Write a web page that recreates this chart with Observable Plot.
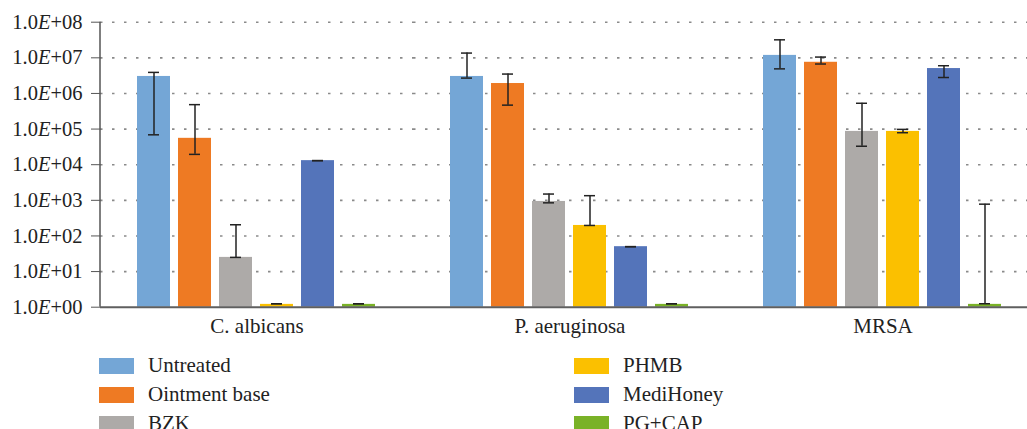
<!DOCTYPE html>
<html>
<head>
<meta charset="utf-8">
<script src="https://cdn.jsdelivr.net/npm/d3@7"></script>
<script src="https://cdn.jsdelivr.net/npm/@observablehq/plot@0.6"></script>
<style>
  html, body { margin: 0; padding: 0; background: #fff; overflow: hidden; }
  #wrap { position: relative; width: 1027px; height: 429px; overflow: hidden; font-family: "Liberation Serif", "Times New Roman", Times, "DejaVu Serif", "Noto Serif", serif; color: #222; }
  #chart { position: absolute; left: 0; top: 0; width: 1040px; }
  #chart svg { max-width: none !important; }
  #chart text { font-family: "Liberation Serif", "Times New Roman", Times, "DejaVu Serif", "Noto Serif", serif; }
  .lg { position: absolute; display: flex; align-items: center; font-size: 21px; line-height: 21px; white-space: nowrap; }
  .lg .sw { width: 35px; height: 16px; margin-right: 14px; flex: none; }
</style>
</head>
<body>
<div id="wrap"><div id="chart"></div></div>
<script>
const groups = ["C. albicans", "P. aeruginosa", "MRSA"];
const treatments = ["Untreated", "Ointment base", "BZK", "PHMB", "MediHoney", "PG+CAP"];
const colors = ["#74A6D6", "#EE7A23", "#ADAAA8", "#FBC000", "#5474BA", "#7AB227"];

const albicansValues   = [3.0e6, 5.5e4, 25, 1.2, 1.3e4, 1.2];
const aeruginosaValues = [3.0e6, 1.9e6, 930, 197, 50, 1.2];
const mrsaValues       = [1.17e7, 7.5e6, 8.6e4, 8.6e4, 5.0e6, 1.2];

const albicansLow    = [6.9e4, 1.95e4, 25, 1.25, 1.3e4, 1.25];
const albicansHigh   = [3.9e6, 4.85e5, 206, 1.25, 1.3e4, 1.25];
const aeruginosaLow  = [2.7e6, 4.7e5, 850, 197, 50, 1.25];
const aeruginosaHigh = [1.36e7, 3.5e6, 1.5e3, 1.35e3, 50, 1.25];
const mrsaLow        = [4.9e6, 6.7e6, 3.3e4, 7.9e4, 2.8e6, 1.25];
const mrsaHigh       = [3.2e7, 1.05e7, 5.3e5, 9.8e4, 6.0e6, 780];

const yTicks = [1, 10, 100, 1e3, 1e4, 1e5, 1e6, 1e7, 1e8];
const yTickLabels = ["1.0E+00", "1.0E+01", "1.0E+02", "1.0E+03", "1.0E+04", "1.0E+05", "1.0E+06", "1.0E+07", "1.0E+08"];

const seriesValues = [albicansValues, aeruginosaValues, mrsaValues];
const seriesLow = [albicansLow, aeruginosaLow, mrsaLow];
const seriesHigh = [albicansHigh, aeruginosaHigh, mrsaHigh];

const data = [];
groups.forEach((g, gi) => treatments.forEach((t, ti) => {
  data.push({group: g, treatment: t, value: seriesValues[gi][ti], lo: seriesLow[gi][ti], hi: seriesHigh[gi][ti]});
}));

const FONT = '"Liberation Serif", "Times New Roman", Times, "DejaVu Serif", "Noto Serif", serif';
const ML = 100;
const plot = Plot.plot({
  width: 1040,
  height: 345,
  marginLeft: ML,
  marginRight: 1,
  marginTop: 21.7,
  marginBottom: 38.3,
  style: {fontFamily: FONT, fontSize: "20px", color: "#222", background: "#fff", overflow: "visible", maxWidth: "none"},
  fx: {domain: groups, padding: 0, label: null},
  x: {domain: treatments, paddingInner: 0.183, paddingOuter: 0.853, axis: null},
  y: {type: "log", domain: [1, 1e8], label: null},
  color: {domain: treatments, range: colors},
  marks: [
    Plot.ruleY(yTicks.slice(1), {stroke: "#8a8a8a", strokeWidth: 1.6, strokeDasharray: "2.5,9.5"}),
    Plot.barY(data, {fx: "group", x: "treatment", y1: 1, y2: "value", fill: "treatment"}),
    Plot.ruleY([1], {stroke: "#5f5f5f", strokeWidth: 2}),
    Plot.ruleX(data, {fx: "group", x: "treatment", y1: "lo", y2: "hi", stroke: "#222", strokeWidth: 1.5}),
    Plot.tickY(data, {fx: "group", x: "treatment", y: "lo", stroke: "#222", strokeWidth: 1.5, insetLeft: 11, insetRight: 11}),
    Plot.tickY(data, {fx: "group", x: "treatment", y: "hi", stroke: "#222", strokeWidth: 1.5, insetLeft: 11, insetRight: 11}),
    Plot.axisY({ticks: yTicks, tickFormat: (d) => yTickLabels[yTicks.indexOf(d)], tickSize: 9, tickPadding: 9, stroke: "#555", fill: "#222", fontSize: 20.5, label: null}),
    Plot.axisFx({anchor: "bottom", tickSize: 0, tickPadding: 10.5, fontSize: 21, fill: "#222", label: null})
  ]
});

document.getElementById("chart").appendChild(plot);

// Y axis line drawn from the library's y scale
const ys = plot.scale("y");
d3.select(plot).append("line")
  .attr("x1", ML).attr("x2", ML)
  .attr("y1", ys.apply(1e8)).attr("y2", ys.apply(1))
  .attr("stroke", "#555").attr("stroke-width", 1.5);

// Italic "E" in tick labels, as in the reference
d3.select(plot).selectAll('g[aria-label="y-axis tick label"] text').each(function() {
  const s = this.textContent;
  const parts = s.split("E");
  const t = d3.select(this);
  t.text("");
  t.append("tspan").text(parts[0]);
  t.append("tspan").attr("font-style", "italic").text("E");
  t.append("tspan").text(parts[1]);
});

// Legend (HTML, below the chart)
const wrap = document.getElementById("wrap");
treatments.forEach((t, i) => {
  const col = Math.floor(i / 3), row = i % 3;
  const el = document.createElement("div");
  el.className = "lg";
  el.style.left = (col === 0 ? 99 : 574) + "px";
  el.style.top = (355 + row * 29) + "px";
  el.innerHTML = `<span class="sw" style="background:${colors[i]}"></span><span>${t}</span>`;
  wrap.appendChild(el);
});
</script>
</body>
</html>
